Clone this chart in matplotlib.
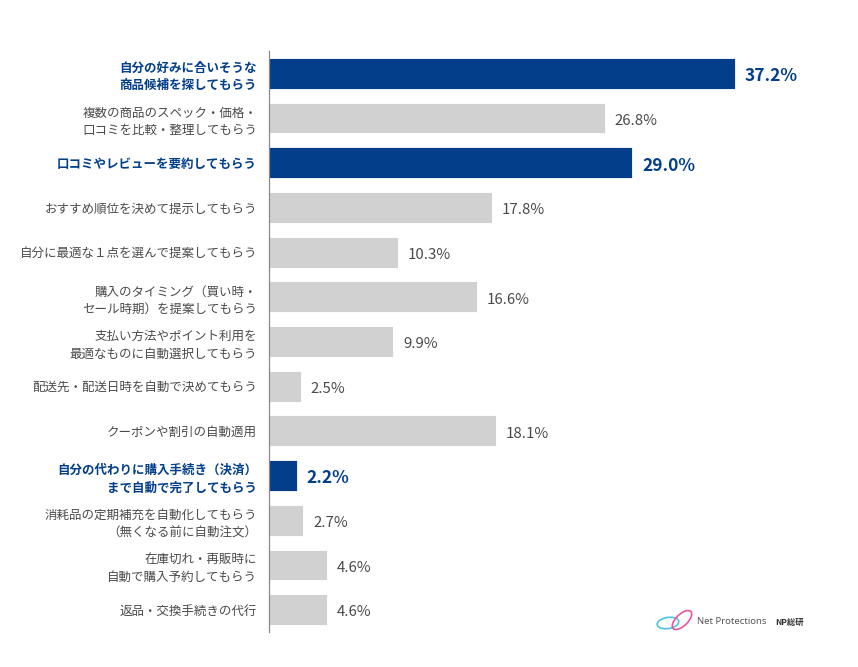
import matplotlib

matplotlib.use("Agg")
import matplotlib.pyplot as plt
from matplotlib.patches import Ellipse

plt.rcParams["font.family"] = ["Noto Sans CJK JP", "DejaVu Sans"]

# ---------------------------------------------------------------------------
# data
# ---------------------------------------------------------------------------
categories = [
    "自分の好みに合いそうな\n商品候補を探してもらう",
    "複数の商品のスペック・価格・\n口コミを比較・整理してもらう",
    "口コミやレビューを要約してもらう",
    "おすすめ順位を決めて提示してもらう",
    "自分に最適な１点を選んで提案してもらう",
    "購入のタイミング（買い時・\nセール時期）を提案してもらう",
    "支払い方法やポイント利用を\n最適なものに自動選択してもらう",
    "配送先・配送日時を自動で決めてもらう",
    "クーポンや割引の自動適用",
    "自分の代わりに購入手続き（決済）\nまで自動で完了してもらう",
    "消耗品の定期補充を自動化してもらう\n（無くなる前に自動注文）",
    "在庫切れ・再販時に\n自動で購入予約してもらう",
    "返品・交換手続きの代行",
]
values = [37.2, 26.8, 29.0, 17.8, 10.3, 16.6, 9.9, 2.5, 18.1, 2.2, 2.7, 4.6, 4.6]
highlight = [True, False, True, False, False, False, False, False, False, True, False, False, False]

NAVY = "#023e8a"
GREY_BAR = "#d0d1d0"
GREY_TXT = "#4a4a4a"

fig = plt.figure(figsize=(8.58, 6.67), dpi=100)
ax = fig.add_axes([0.3141, 0.0525, 0.5832, 0.871])

ys = list(range(len(values)))
colors = [NAVY if h else GREY_BAR for h in highlight]
ax.barh(ys, values, height=0.69, color=colors, edgecolor="white", linewidth=0.6)

for y, v, h in zip(ys, values, highlight):
    ax.annotate(
        f"{v:.1f}%",
        xy=(v, y),
        xytext=(7, -2),
        textcoords="offset points",
        ha="left",
        va="center",
        fontsize=12.5 if h else 10.8,
        fontweight="bold" if h else "normal",
        color=NAVY if h else GREY_TXT,
    )

ax.set_xlim(0, 40)
ax.set_ylim(len(values) - 0.5, -0.5)
ax.set_yticks(ys)
ax.set_yticklabels(categories, fontsize=9, linespacing=1.45)
for lbl, h in zip(ax.get_yticklabels(), highlight):
    lbl.set_color(NAVY if h else GREY_TXT)
    lbl.set_fontweight("bold" if h else "normal")
ax.tick_params(axis="y", length=0, pad=9)
ax.set_xticks([])
for side in ("top", "right", "bottom"):
    ax.spines[side].set_visible(False)
ax.spines["left"].set_color("#8a8a8a")
ax.spines["left"].set_linewidth(0.9)

# logo (rough)
W, H = 858, 667
lx, ly = 674 / W, 1 - 621 / H
fig.patches.append(Ellipse((lx - 6 / W, ly - 2 / H), 22 / W, 11 / H, angle=15,
                           fill=False, ec="#4cc3ec", lw=1.2, transform=fig.transFigure))
fig.patches.append(Ellipse((lx + 8 / W, ly + 1 / H), 13 / W, 22 / H, angle=-35,
                           fill=False, ec="#e8559a", lw=1.2, transform=fig.transFigure))
fig.text(697 / W, 1 - 622 / H, "Net Protections", fontsize=6.9, color="#555555",
         va="center", ha="left", family=["Noto Sans", "DejaVu Sans"])
fig.text(775 / W, 1 - 622 / H, "NP総研", fontsize=6, color="#333333",
         fontweight="bold", va="center", ha="left")

fig.savefig("out.png", dpi=100, facecolor="white")
